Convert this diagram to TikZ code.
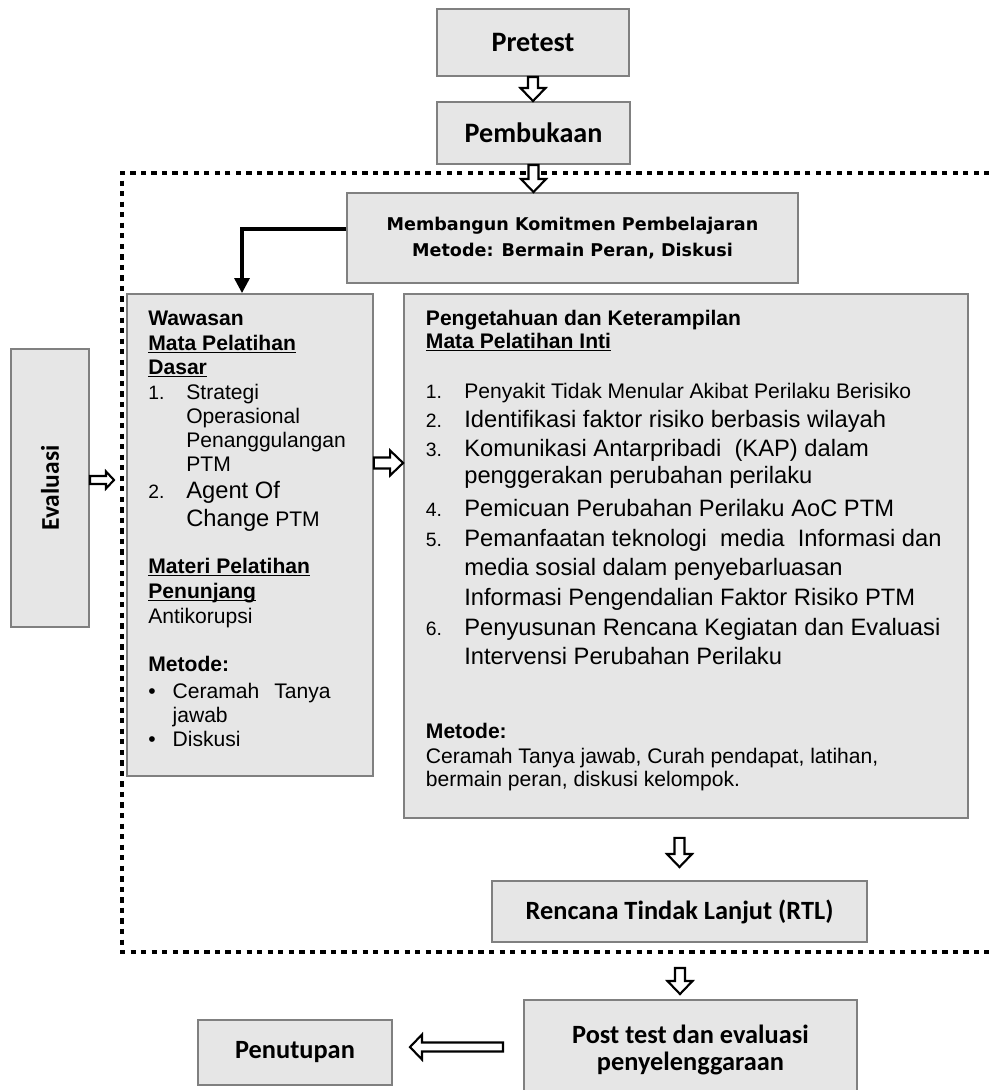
\documentclass[tikz,border=0pt]{standalone}
\usepackage{fontspec}
\setmainfont{Liberation Sans}
\newfontfamily\calibri{Carlito}
\newfontfamily\dejavu{DejaVu Sans}
\usepackage{tikz}
\usetikzlibrary{calc,arrows.meta}
\definecolor{boxfill}{RGB}{230,230,230}
\definecolor{boxline}{RGB}{128,128,128}
\newdimen\pxu \pxu=0.569pt
\newcommand\bline[2]{\vskip#1\pxu\hbox{#2}}
\newcommand\uln[1]{\setbox0=\hbox{#1}\rlap{\rule[-1.6pt]{\wd0}{0.7pt}}\box0}
\newcommand\nr[2]{\makebox[#1\pxu][l]{\fontsize{11}{0}\selectfont #2}}
\def\aw{2.85pt}\def\ah{7.11pt}\def\al{7.4pt}
\tikzset{
  box/.style={draw=boxline, fill=boxfill, line width=1.1pt, inner sep=0pt},
  title/.style={font=\calibri\bfseries\fontsize{15}{15}\selectfont},
  frame/.style={line width=2.6pt, dash pattern=on 3pt off 3pt},
  asize/.code args={#1/#2/#3}{\def\aw{#1}\def\ah{#2}\def\al{#3}},
  hollow/.style={draw=black, fill=white, line width=1.2pt},
  dnarrow/.style={hollow, to path={let \p1=(\tikztostart), \p2=(\tikztotarget) in
    (\x1-\aw,\y1) -- (\x1-\aw,\y2+\al) -- (\x1-\ah,\y2+\al) -- (\x1,\y2)
    -- (\x1+\ah,\y2+\al) -- (\x1+\aw,\y2+\al) -- (\x1+\aw,\y1) -- cycle}},
  rtarrow/.style={hollow, to path={let \p1=(\tikztostart), \p2=(\tikztotarget) in
    (\x1,\y1-\aw) -- (\x2-\al,\y1-\aw) -- (\x2-\al,\y1-\ah) -- (\x2,\y1)
    -- (\x2-\al,\y1+\ah) -- (\x2-\al,\y1+\aw) -- (\x1,\y1+\aw) -- cycle}},
  ltarrow/.style={hollow, to path={let \p1=(\tikztostart), \p2=(\tikztotarget) in
    (\x1,\y1-\aw) -- (\x2+\al,\y1-\aw) -- (\x2+\al,\y1-\ah) -- (\x2,\y1)
    -- (\x2+\al,\y1+\ah) -- (\x2+\al,\y1+\aw) -- (\x1,\y1+\aw) -- cycle}},
  elbow/.style={line width=1.8pt, -{Triangle[length=8.5pt,width=8.5pt]}}
}

\begin{document}
\begin{tikzpicture}[x=0.02cm, y=-0.02cm]
  %%%%% START %%%%%
  \useasboundingbox (0,0) rectangle (989,1090);

  \draw[frame] (1000,173) -- (122,173) -- (122,952) -- (1000,952);

  \node[box, title, font=\calibri\bfseries\fontsize{16}{16}\selectfont, minimum width=3.84cm, minimum height=1.34cm] (pretest) at (533,42.5) {Pretest};
  \node[box, title, font=\calibri\bfseries\fontsize{16}{16}\selectfont, minimum width=3.86cm, minimum height=1.24cm] (pembukaan) at (533.5,133) {Pembukaan};

  \node[box, align=center, font=\dejavu\bfseries\fontsize{10}{15.1}\selectfont, minimum width=9.02cm, minimum height=1.8cm] (mkp) at (572.5,238)
    {Membangun Komitmen Pembelajaran\\Metode: Bermain Peran, Diskusi};

  \node[box, minimum width=4.92cm, minimum height=9.64cm] (wawasan) at (250,535) {};
  \node[box, minimum width=11.28cm, minimum height=10.48cm] (pengetahuan) at (686,556) {};
  \node[box, title, font=\calibri\bfseries\fontsize{14.5}{14.5}\selectfont, rotate=90, minimum width=5.56cm, minimum height=1.56cm] (evaluasi) at (50,488) {Evaluasi};

  \node[box, title, minimum width=7.5cm, minimum height=1.22cm] (rtl) at (679.5,911.5) {Rencana Tindak Lanjut (RTL)};
  \node[box, title, align=center, font=\calibri\bfseries\fontsize{15}{14.9}\selectfont, minimum width=6.66cm, minimum height=2cm] (post) at (690.5,1050)
    {Post test dan evaluasi\\penyelenggaraan};
  \node[box, title, minimum width=3.88cm, minimum height=1.3cm] (penutupan) at (295,1052.5) {Penutupan};

  % left box text
  \node[anchor=base west, inner sep=0pt] (wtext) at (148,325) {\vtop{\fontsize{12}{0}\selectfont\lineskiplimit=-\maxdimen
    \hbox{\bfseries Wawasan}
    \bline{25}{\bfseries\uln{Mata Pelatihan}}
    \bline{24.3}{\bfseries\uln{Dasar}}
    \bline{25}{\nr{38}{1.}Strategi}
    \bline{24}{\hskip38\pxu Operasional}
    \bline{24.4}{\hskip38\pxu Penanggulangan}
    \bline{24}{\hskip38\pxu PTM}
    \bline{27.3}{\nr{38}{2.}\fontsize{13.5}{0}\selectfont Agent Of}
    \bline{27.7}{\hskip38\pxu{\fontsize{13.5}{0}\selectfont Change} PTM}
    \bline{46.6}{\bfseries\uln{Materi Pelatihan}}
    \bline{25}{\bfseries\uln{Penunjang}}
    \bline{25}{Antikorupsi}
    \bline{48.4}{\bfseries Metode:}
    \bline{26.6}{\makebox[24.3\pxu][l]{\textbullet}Ceramah\hspace{15\pxu}Tanya}
    \bline{24}{\hskip24.3\pxu jawab}
    \bline{24.4}{\makebox[24.3\pxu][l]{\textbullet}Diskusi}}};

  % right box text
  \node[anchor=base west, inner sep=0pt] (ptext) at (425.6,325) {\vtop{\fontsize{12}{0}\selectfont\lineskiplimit=-\maxdimen
    \hbox{\bfseries Pengetahuan dan Keterampilan}
    \bline{23.3}{\bfseries\uln{Mata Pelatihan Inti}}
    \bline{50.7}{\nr{38.4}{1.}Penyakit Tidak Menular Akibat Perilaku Berisiko}
    \bline{28.7}{\nr{38.4}{2.}\fontsize{13.5}{0}\selectfont Identifikasi faktor risiko berbasis wilayah}
    \bline{29}{\nr{38.4}{3.}\fontsize{13.5}{0}\selectfont Komunikasi Antarpribadi\ \ (KAP) dalam}
    \bline{27.3}{\hskip38.4\pxu\fontsize{13.5}{0}\selectfont penggerakan perubahan perilaku}
    \bline{32.7}{\nr{38.4}{4.}\fontsize{13.5}{0}\selectfont Pemicuan Perubahan Perilaku AoC PTM}
    \bline{30}{\nr{38.4}{5.}\fontsize{13.5}{0}\selectfont Pemanfaatan teknologi\ \ media\ \ Informasi dan}
    \bline{29.3}{\hskip38.4\pxu\fontsize{13.5}{0}\selectfont media sosial dalam penyebarluasan}
    \bline{30}{\hskip38.4\pxu\fontsize{13.5}{0}\selectfont Informasi Pengendalian Faktor Risiko PTM}
    \bline{30}{\nr{38.4}{6.}\fontsize{13.5}{0}\selectfont Penyusunan Rencana Kegiatan dan Evaluasi}
    \bline{29}{\hskip38.4\pxu\fontsize{13.5}{0}\selectfont Intervensi Perubahan Perilaku}
    \bline{73.3}{\bfseries Metode:}
    \bline{25}{Ceramah Tanya jawab, Curah pendapat, latihan,}
    \bline{23.4}{bermain peran, diskusi kelompok.}}};

  % connectors
  \coordinate (ww) at ([yshift=41pt]wawasan.east);
  \coordinate (ev) at ([yshift=4.55pt]evaluasi.south);
  \coordinate (frameL) at (114,480);
  \coordinate (r0) at (rtl.north |- pengetahuan.south);
  \coordinate (frameB) at (680,968);
  \coordinate (p0) at (frameB |- post.north);
  \coordinate (q0) at ([xshift=-11.4pt,yshift=1.7pt]post.west);
  \coordinate (q1) at (q0 -| penutupan.east);

  \draw[dnarrow] (pretest.south) to (pembukaan.north);
  \draw[dnarrow] (pembukaan.south) to (pembukaan.south |- mkp.north);
  \draw[elbow] ([yshift=5.1pt]mkp.west) -| ([xshift=-4.55pt]wawasan.north);
  \draw[rtarrow, asize=3.13pt/7.11pt/7.4pt] (ww) to (ww -| pengetahuan.west);
  \draw[rtarrow, asize=2.28pt/4.84pt/4.55pt] (ev) to (frameL);
  \draw[dnarrow] ([yshift=-10.8pt]r0) to ([yshift=7.4pt]rtl.north);
  \draw[dnarrow] (frameB) to ([yshift=2.85pt]p0);
  \draw[ltarrow, asize=2.56pt/7.11pt/6.83pt] (q0) to ([xshift=9.7pt]q1);
  %%%%% END %%%%%
\end{tikzpicture}
\end{document}
